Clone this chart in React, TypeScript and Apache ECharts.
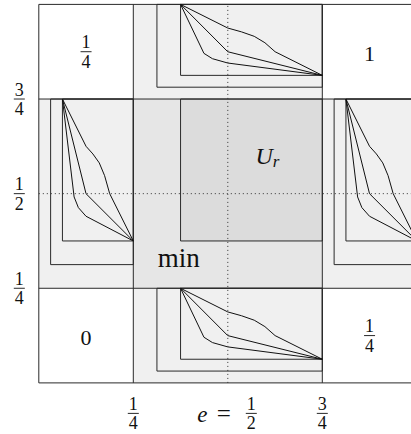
import React, { useEffect, useRef } from "react";
import * as echarts from "echarts";

// regions as [x0, x1, y0, y1] in the unit square
const sidePanels = [
  [0.25, 0.75, 0.75, 1],
  [0.25, 0.75, 0, 0.25],
  [0, 0.25, 0.25, 0.75],
  [0.75, 1, 0.25, 0.75],
];
const centerCell = [[0.25, 0.75, 0.25, 0.75]];
const urCell = [[0.375, 0.75, 0.375, 0.75]];
const nestedOuter = [
  [5 / 16, 0.75, 25 / 32, 1],
  [5 / 16, 0.75, 1 / 32, 0.25],
  [1 / 32, 0.25, 5 / 16, 0.75],
  [25 / 32, 1, 5 / 16, 0.75],
];
const fanBoxes = [
  [3 / 8, 0.75, 13 / 16, 1],
  [3 / 8, 0.75, 1 / 16, 0.25],
  [1 / 16, 0.25, 3 / 8, 0.75],
  [13 / 16, 1, 3 / 8, 0.75],
];
const gridX = [0, 0.25, 0.75, 1];
const gridY = [0, 0.25, 0.75, 1];
const dotted = [0.5];

// fan curves in box-local coordinates (u right, v down from the top-left corner)
const fanA = [[0, 0], [0.333, 0.333], [0.43, 0.387], [0.52, 0.45], [0.595, 0.54], [0.667, 0.667], [1, 1]];
const fanB = [[0, 0], [0.333, 0.667], [1, 1]];
const fanC = [[0, 0], [0.165, 0.69], [0.225, 0.765], [0.333, 0.826], [1, 1]];
const fans = [fanA, fanB, fanC];

const cornerCenters = [[0.125, 0.875], [0.875, 0.875], [0.125, 0.125], [0.875, 0.125]];
const cornerValues = ["1/4", "1", "0", "1/4"];
const xTicks = [0.25, 0.5, 0.75];
const xTickLabels = ["1/4", "e = 1/2", "3/4"];
const yTicks = [0.75, 0.5, 0.25];
const yTickLabels = ["3/4", "1/2", "1/4"];
const innerLabels = ["min", "U_r"];
const innerLabelPos = [[0.37, 0.33], [0.59, 0.6]];

const FAMILY = "Liberation Serif";
const INK = "#111";
const LINE = "#2a2a2a";

function txt(text: string, size: number, italic = false, align = "center") {
  return {
    text,
    fontFamily: FAMILY,
    fontSize: size,
    fontStyle: italic ? "italic" : "normal",
    fontWeight: "normal",
    fill: INK,
    align,
    verticalAlign: "middle",
    textAlign: align,
    textVerticalAlign: "middle",
  };
}

function fracEls(cx: number, cy: number, num: string, den: string, size = 18) {
  return [
    { type: "text", x: cx, y: cy - 9.5, style: txt(num, size) },
    { type: "line", shape: { x1: cx - 5.5, y1: cy, x2: cx + 5.5, y2: cy }, style: { stroke: INK, lineWidth: 0.9 } },
    { type: "text", x: cx, y: cy + 10, style: txt(den, size) },
  ];
}

function rectSeries(data: number[][], fill: string, stroke: string | null, z: number) {
  return {
    type: "custom",
    z,
    silent: true,
    data,
    renderItem: (_p: any, api: any) => {
      const a = api.coord([api.value(0), api.value(3)]);
      const b = api.coord([api.value(1), api.value(2)]);
      return {
        type: "rect",
        shape: { x: a[0], y: a[1], width: b[0] - a[0], height: b[1] - a[1] },
        style: { fill, stroke: stroke || "none", lineWidth: stroke ? 1 : 0 },
      };
    },
  };
}

export default function App() {
  const ref = useRef<HTMLDivElement>(null);
  useEffect(() => {
    if (!ref.current) return;
    const chart = echarts.init(ref.current, null, { renderer: "svg" });

    const lineSegs: number[][] = [];
    gridX.forEach((x) => lineSegs.push([x, 0, x, 1]));
    gridY.forEach((y) => lineSegs.push([0, y, 1, y]));
    const dotSegs: number[][] = [];
    dotted.forEach((d) => {
      dotSegs.push([d, 0, d, 1]);
      dotSegs.push([0, d, 1, d]);
    });

    const curveSeries: any[] = [];
    fanBoxes.forEach((box) => {
      fans.forEach((curve) => {
        curveSeries.push({
          type: "line",
          z: 6,
          silent: true,
          symbol: "none",
          clip: false,
          lineStyle: { color: INK, width: 1 },
          data: curve.map(([u, v]) => [box[0] + u * (box[1] - box[0]), box[3] - v * (box[3] - box[2])]),
        });
      });
    });

    const segSeries = (data: number[][], dash: number[] | null, z: number, color: string) => ({
      type: "custom",
      z,
      silent: true,
      data,
      renderItem: (_p: any, api: any) => {
        const a = api.coord([api.value(0), api.value(1)]);
        const b = api.coord([api.value(2), api.value(3)]);
        return {
          type: "line",
          shape: { x1: a[0], y1: a[1], x2: b[0], y2: b[1] },
          style: { stroke: color, lineWidth: 1, lineDash: dash || undefined },
        };
      },
    });

    const labelSeries = {
      type: "custom",
      z: 10,
      silent: true,
      data: [[0, 0]],
      renderItem: (_p: any, api: any) => {
        const children: any[] = [];
        cornerCenters.forEach((c, i) => {
          const p = api.coord(c);
          const v = cornerValues[i];
          if (v.includes("/")) {
            const [n, d] = v.split("/");
            children.push(...fracEls(p[0], p[1], n, d));
          } else {
            children.push({ type: "text", x: p[0], y: p[1] + 1.5, style: txt(v, 22) });
          }
        });
        xTicks.forEach((t, i) => {
          const p = api.coord([t, 0]);
          const lab = xTickLabels[i];
          const by = p[1] + 30.5;
          if (lab.includes(" = ")) {
            const [pre, f] = lab.split(" = ");
            const [n, d] = f.split("/");
            children.push({ type: "text", x: p[0] - 25.5, y: by + 1, style: txt(pre, 23, true) });
            children.push({ type: "text", x: p[0] - 4, y: by, style: txt("=", 25) });
            children.push(...fracEls(p[0] + 23.5, by, n, d));
          } else {
            const [n, d] = lab.split("/");
            children.push(...fracEls(p[0], by, n, d));
          }
        });
        yTicks.forEach((t, i) => {
          const p = api.coord([0, t]);
          const [n, d] = yTickLabels[i].split("/");
          children.push(...fracEls(p[0] - 19.5, p[1], n, d));
        });
        innerLabels.forEach((lab, i) => {
          const p = api.coord(innerLabelPos[i]);
          if (lab.includes("_")) {
            const [base, sub] = lab.split("_");
            children.push({ type: "text", x: p[0] + 11, y: p[1], style: txt(base, 24, true, "right") });
            children.push({ type: "text", x: p[0] + 11, y: p[1] + 6, style: txt(sub, 17, true, "left") });
          } else {
            children.push({ type: "text", x: p[0], y: p[1], style: txt(lab, 27) });
          }
        });
        return { type: "group", children };
      },
    };

    chart.setOption({
      animation: false,
      backgroundColor: "#ffffff",
      grid: { left: 38.8, top: 4.4, width: 378, height: 378.5, show: false },
      xAxis: { type: "value", min: 0, max: 1, show: false },
      yAxis: { type: "value", min: 0, max: 1, show: false },
      series: [
        rectSeries(sidePanels, "#f0f0f0", null, 1),
        rectSeries(centerCell, "#e6e6e6", null, 2),
        rectSeries(urCell, "#dcdcdc", LINE, 3),
        rectSeries(nestedOuter, "none", LINE, 4),
        rectSeries(fanBoxes, "none", LINE, 4),
        segSeries(lineSegs, null, 5, LINE),
        ...curveSeries,
        segSeries(dotSegs, [1, 3], 8, "#333"),
        labelSeries,
      ],
    });
    return () => chart.dispose();
  }, []);
  return (
    <div style={{ position: "absolute", left: 0, top: 0, width: 411, height: 434, overflow: "hidden", background: "#fff" }}>
      <div ref={ref} style={{ width: 440, height: 434 }} />
    </div>
  );
}
